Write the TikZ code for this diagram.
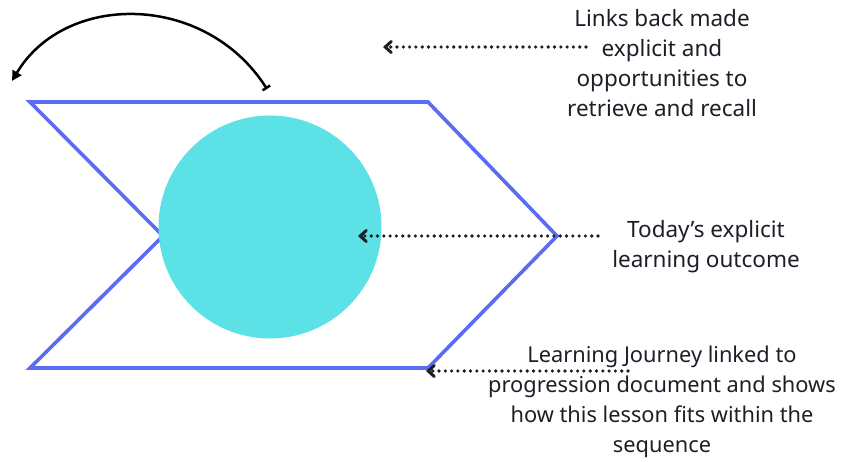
\documentclass[tikz,border=0pt]{standalone}
\usepackage{fontspec}
\setmainfont{Noto Sans}
\usetikzlibrary{arrows.meta}
\definecolor{chev}{HTML}{5A6CF2}
\definecolor{disc}{HTML}{5CE1E6}
\definecolor{ink}{HTML}{1E1E28}
\tikzset{
  label/.style={align=center, text=ink, font=\fontsize{22.5}{30}\selectfont, inner sep=0pt},
  dotarrow/.style={draw=ink, line width=3.6pt, line cap=round, dash pattern=on 0pt off 6.3pt, -{Straight Barb[length=6pt,width=11pt,line width=3pt,line cap=round]}},
  arcarrow/.style={draw=black, line width=2.5pt, {Bar[width=9pt]}-{Triangle[length=10pt,width=10pt]}},
}
\begin{document}
\begin{tikzpicture}[x=1pt,y=-1pt]
\useasboundingbox (0,0) rectangle (843,462);
% chevron
\coordinate (tl) at (30,102);
\coordinate (tr) at (428,102);
\coordinate (tip) at (557,236);
\coordinate (br) at (428,368);
\coordinate (bl) at (30,368);
\coordinate (notch) at (163,236);
\draw[chev, line width=3.6pt, line join=miter] (tl) -- (tr) -- (tip) -- (br) -- (bl) -- (notch) -- cycle;
% disc
\node[circle, fill=disc, minimum size=223pt, inner sep=0pt] (disc) at (270,227) {};
% curved arrow
\coordinate (arcstart) at (267,89);
\coordinate (arcend) at (12,81);
\draw[arcarrow] (arcstart) .. controls (205,-8) and (65,-8) .. (arcend);
% labels
\node[label] (t1) at (662,63) {Links back made\\explicit and\\opportunities to\\retrieve and recall};
\node[label] (t2) at (706,247) {Today’s explicit\\learning outcome};
\node[label, font=\fontsize{21.8}{30}\selectfont] (t3) at (662,402) {Learning Journey linked to\\progression document and shows\\how this lesson fits within the\\sequence};
% dotted arrows
\coordinate (a1s) at (586,47);
\coordinate (a1e) at (383,47);
\coordinate (a2s) at (598,236);
\coordinate (a2e) at (358,236);
\coordinate (a3s) at (628,371);
\coordinate (a3e) at (426,371);
\draw[dotarrow] (a1s) -- (a1e);
\draw[dotarrow] (a2s) -- (a2e);
\draw[dotarrow] (a3s) -- (a3e);
\end{tikzpicture}
\end{document}
